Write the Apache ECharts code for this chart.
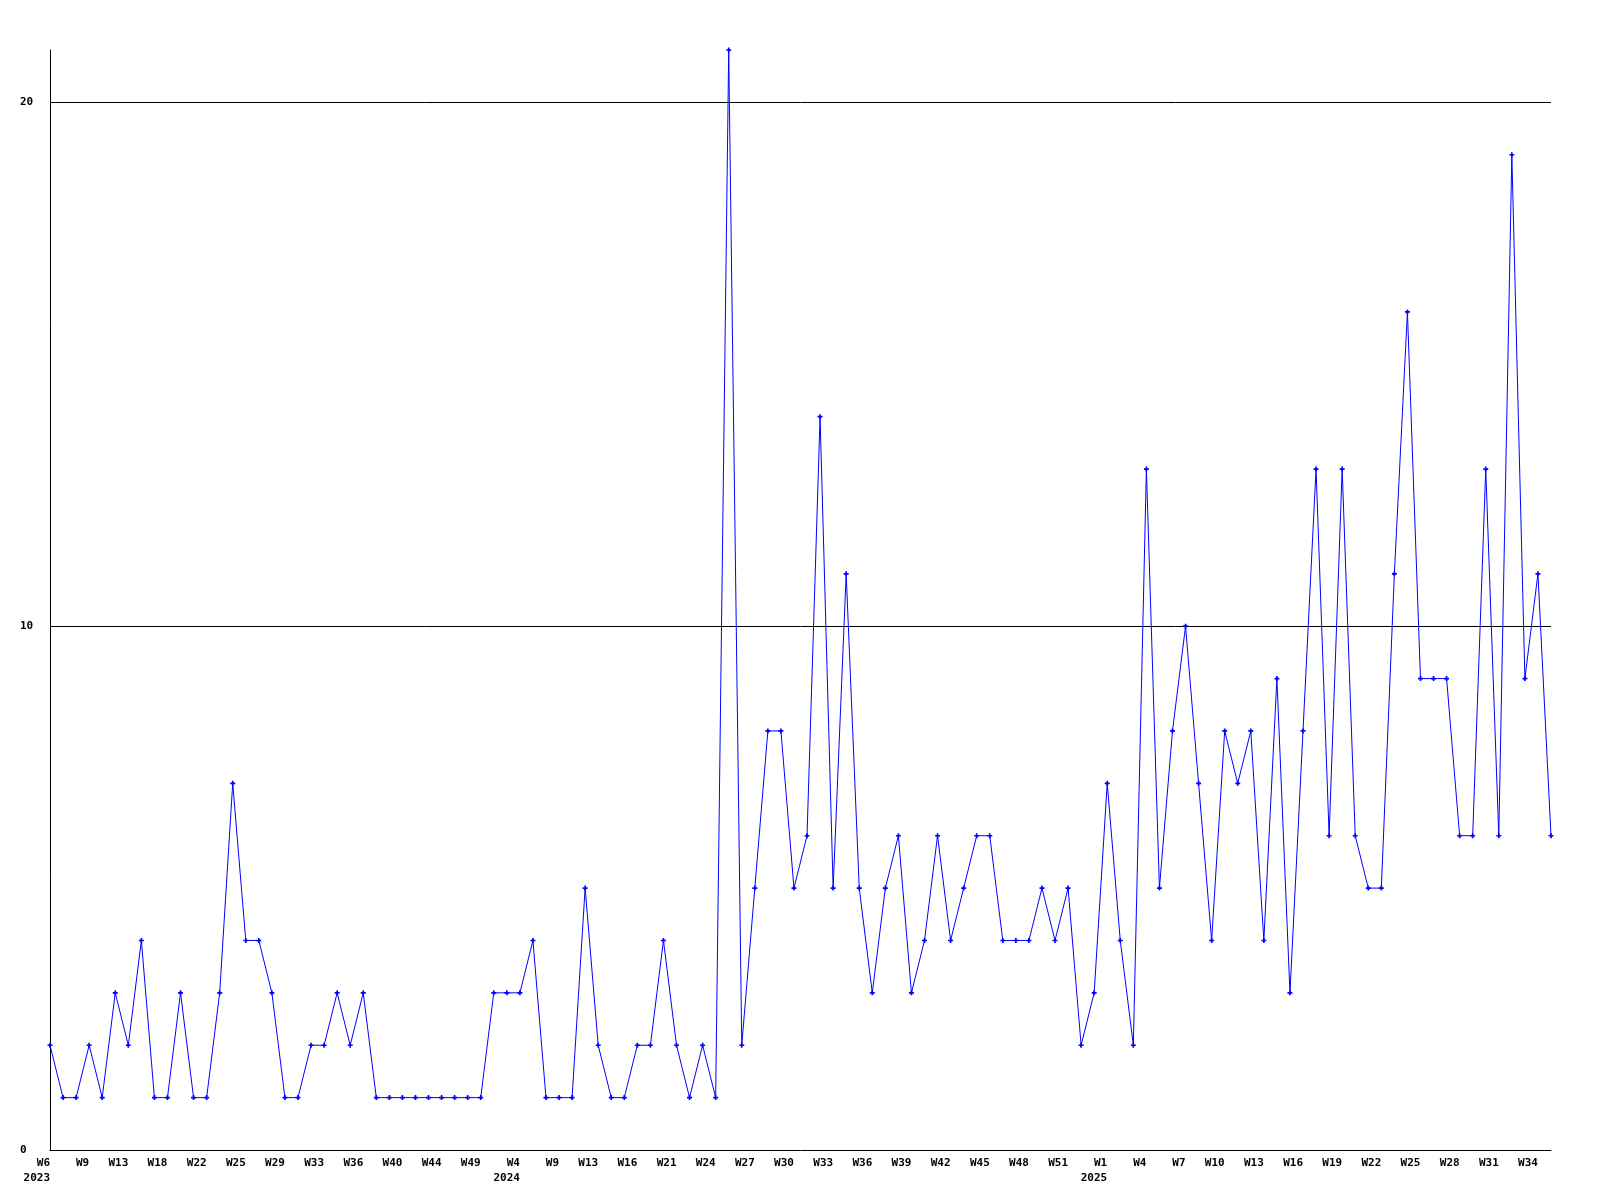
<!DOCTYPE html>
<html>
<head>
<meta charset="utf-8">
<script src="https://cdn.jsdelivr.net/npm/echarts@6/dist/echarts.min.js"></script>
<style>
html,body{margin:0;padding:0;background:#fff;}
#chart{width:1600px;height:1200px;}
</style>
</head>
<body>
<div id="chart"></div>
<script>
// Week categories (year-week), one per data point
const weeks = [
  "2023-W6","2023-W7","2023-W8","2023-W9","2023-W10","2023-W11","2023-W13","2023-W14","2023-W16","2023-W18",
  "2023-W19","2023-W20","2023-W22","2023-W23","2023-W24","2023-W25","2023-W26","2023-W27","2023-W29","2023-W30",
  "2023-W31","2023-W33","2023-W34","2023-W35","2023-W36","2023-W37","2023-W38","2023-W40","2023-W41","2023-W42",
  "2023-W44","2023-W45","2023-W47","2023-W49","2023-W51","2024-W2","2024-W4","2024-W5","2024-W7","2024-W9",
  "2024-W10","2024-W11","2024-W13","2024-W14","2024-W15","2024-W16","2024-W18","2024-W19","2024-W21","2024-W22",
  "2024-W23","2024-W24","2024-W25","2024-W26","2024-W27","2024-W28","2024-W29","2024-W30","2024-W31","2024-W32",
  "2024-W33","2024-W34","2024-W35","2024-W36","2024-W37","2024-W38","2024-W39","2024-W40","2024-W41","2024-W42",
  "2024-W43","2024-W44","2024-W45","2024-W46","2024-W47","2024-W48","2024-W49","2024-W50","2024-W51","2024-W52",
  "2024-W53","2025-W1","2025-W2","2025-W3","2025-W4","2025-W5","2025-W6","2025-W7","2025-W8","2025-W9",
  "2025-W10","2025-W11","2025-W12","2025-W13","2025-W14","2025-W15","2025-W16","2025-W17","2025-W18","2025-W19",
  "2025-W20","2025-W21","2025-W22","2025-W23","2025-W24","2025-W25","2025-W26","2025-W27","2025-W28","2025-W29",
  "2025-W30","2025-W31","2025-W32","2025-W33","2025-W34","2025-W35"
];

// Weekly counts
const counts = [
  2,1,1,2,1,3,2,4,1,1, 3,1,1,3,7,4,4,3,1,1, 2,2,3,2,3,1,1,1,1,1, 1,1,1,1,3,3,3,4,1,
  1,1,5,2,1,1,2,2,4,2,1,2,1,
  21,2,5,8,8,5,6,14,5,11,5,3,5,6,3,4,6,4,5,
  6,6,4,4,4,5,4,5,2,3, 7,4,2,13,5,8,10,7,4,8, 7,8,4,9,3,8,13,6,13,6, 5,5,11,16,9,9,9,6,6,13, 6,19,9,11,6
];

// Y axis settings and reference lines
const yMin = 0;
const yMax = 21;
const yInterval = 10;
const refLines = [10, 20];

const FONT = '"DejaVu Sans Mono", "Liberation Mono", monospace';

const chart = echarts.init(document.getElementById('chart'));
chart.setOption({
  animation: false,
  backgroundColor: '#ffffff',
  grid: { left: 50, right: 49, top: 50, bottom: 50, containLabel: false },
  xAxis: {
    type: 'category',
    data: weeks,
    boundaryGap: false,
    axisLine: { show: true, lineStyle: { color: '#000', width: 1 } },
    axisTick: { show: false },
    splitLine: { show: false },
    axisLabel: {
      interval: 2,
      align: 'right',
      margin: 6,
      color: '#000',
      fontFamily: FONT,
      fontWeight: 'bold',
      fontSize: 11,
      lineHeight: 15,
      formatter: function (value, index) {
        const parts = value.split('-');
        const yr = parts[0], wk = parts[1];
        const prevYr = index >= 3 ? weeks[index - 3].split('-')[0] : null;
        return yr !== prevYr ? wk + '\n' + yr : wk;
      }
    }
  },
  yAxis: {
    type: 'value',
    min: yMin,
    max: yMax,
    interval: yInterval,
    axisLine: { show: true, lineStyle: { color: '#000', width: 1 } },
    axisTick: { show: false },
    splitLine: { show: false },
    axisLabel: {
      showMaxLabel: false,
      align: 'left',
      margin: 30,
      color: '#000',
      fontFamily: FONT,
      fontWeight: 'bold',
      fontSize: 11
    }
  },
  series: [{
    type: 'line',
    data: counts,
    showAllSymbol: true,
    symbol: 'path://M2,0H4V2H6V4H4V6H2V4H0V2H2Z',
    symbolSize: 5,
    itemStyle: { color: '#0000ff' },
    lineStyle: { color: '#0000ff', width: 1 },
    z: 3,
    markLine: {
      silent: true,
      symbol: ['none', 'none'],
      label: { show: false },
      lineStyle: { color: '#000', width: 1, type: 'solid' },
      data: refLines.map(v => ({ yAxis: v })),
      z: 1
    }
  }]
});
</script>
</body>
</html>
